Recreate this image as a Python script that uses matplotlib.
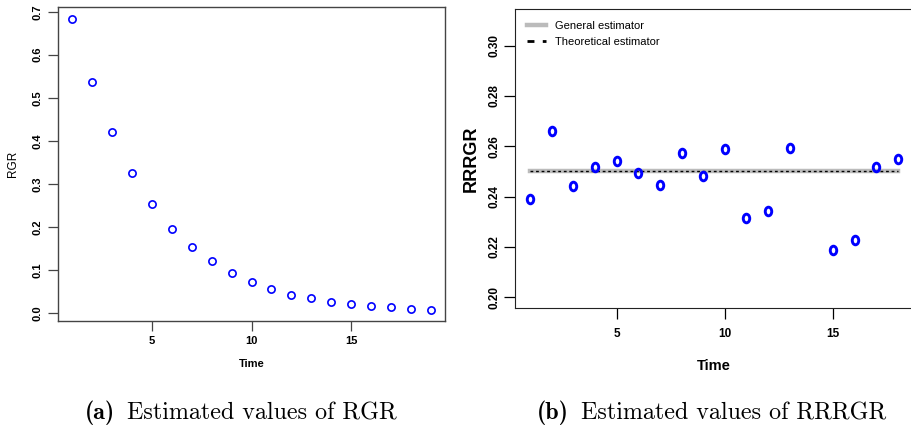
import numpy as np
import matplotlib
matplotlib.use("Agg")
from matplotlib import pyplot as plt
from matplotlib.markers import MarkerStyle
from matplotlib.transforms import Affine2D

# RGR estimates per time step
time_rgr = np.arange(1, 20)
rgr = [0.684, 0.536, 0.420, 0.326, 0.252, 0.196, 0.1535, 0.120, 0.0937, 0.072,
       0.055, 0.0426, 0.034, 0.0263, 0.020, 0.016, 0.0124, 0.0093, 0.0077]

# RRRGR estimates (time 14 falls outside the plotted range)
time_rr = np.arange(1, 19)
rrrgr = [0.2390, 0.2661, 0.2443, 0.2518, 0.2541, 0.2493, 0.2447, 0.2574, 0.2481,
         0.2587, 0.2316, 0.2344, 0.2594, np.nan, 0.2187, 0.2227, 0.2517, 0.2549]
general_est = 0.25
theoretical_est = 0.25

W, H = 912, 429
fig = plt.figure(figsize=(W / 100, H / 100), dpi=100)
plt.rcParams['font.family'] = ['Liberation Sans', 'DejaVu Sans']

def px_axes(x0, x1, y0, y1):
    return fig.add_axes([x0 / W, 1 - y1 / H, (x1 - x0) / W, (y1 - y0) / H])

# ---- (a) RGR ----
ax1 = px_axes(58, 445, 7, 321)
ax1.plot(time_rgr, rgr, 'o', mfc='none', mec='blue', ms=5.2, mew=1.2)
ax1.set_xlim(0.28, 19.72)
ax1.set_ylim(-0.019, 0.711)
ax1.set_xticks([5, 10, 15])
ax1.set_yticks(np.arange(0, 0.71, 0.1))
ax1.set_yticklabels(["%.1f" % v for v in np.arange(0, 0.71, 0.1)],
                    rotation=90, va='center')
for s in ax1.spines.values():
    s.set_color('#444444')
    s.set_linewidth(1.0)
ax1.tick_params(length=7, width=0.9, color='#444444', labelsize=8, pad=4)
for lab in ax1.get_xticklabels() + ax1.get_yticklabels():
    lab.set_fontweight('bold')
ax1.set_xlabel("Time", fontsize=8, fontweight='bold', labelpad=9)
ax1.set_ylabel("RGR", fontsize=8.5, labelpad=10)

# ---- (b) RRRGR ----
ax2 = px_axes(515.3, 912.7, 9.3, 308.3)
ax2.plot([1, 18], [general_est, general_est], color='#bbbbbb', lw=3.2,
         label="General estimator")
ax2.plot([1, 18], [theoretical_est, theoretical_est], color='black', lw=1.0,
         ls=(0, (2, 2)), label="Theoretical estimator")
oval = MarkerStyle('o', transform=Affine2D().scale(0.75, 1.0))
ax2.plot(time_rr, rrrgr, ls='none', marker=oval, mfc='none', mec='blue',
         ms=6.2, mew=2.1)
ax2.set_xlim(0.32, 18.68)
ax2.set_ylim(0.1956, 0.3144)
ax2.set_xticks([5, 10, 15])
yt = np.arange(0.20, 0.301, 0.02)
ax2.set_yticks(yt)
ax2.set_yticklabels(["%.2f" % v for v in yt], rotation=90, va='center')
for s in ax2.spines.values():
    s.set_color('#222222')
ax2.tick_params(length=8, width=0.9, labelsize=8.5, pad=3)
ax2.tick_params(axis='x', pad=6)
for lab in ax2.get_xticklabels() + ax2.get_yticklabels():
    lab.set_fontweight('bold')
ax2.set_xlabel("Time", fontsize=10.5, fontweight='bold', labelpad=14)
ax2.set_ylabel("RRRGR", fontsize=13, fontweight='bold', labelpad=6)
leg = ax2.legend(loc='upper left', frameon=False, fontsize=8,
                 handlelength=1.75, handletextpad=0.8, labelspacing=0.55,
                 borderaxespad=0.6, borderpad=0.45)
leg.get_lines()[1].set_linestyle((0, (2.5, 3)))
leg.get_lines()[1].set_linewidth(2)

# ---- captions ----
for cx, tag, txt in [(85, "(a)", "Estimated values of RGR"),
                     (537, "(b)", "Estimated values of RRRGR")]:
    t1 = fig.text(cx / W, 1 - 413 / H, tag, family='cmb10', fontsize=17.3,
                  va='center', ha='left')
    fig.canvas.draw()
    bb = t1.get_window_extent()
    fig.text((bb.x1 + 12) / W, 1 - 413 / H, txt, family='cmr10', fontsize=17.3,
             va='center', ha='left')

fig.savefig("out.png", dpi=100)
